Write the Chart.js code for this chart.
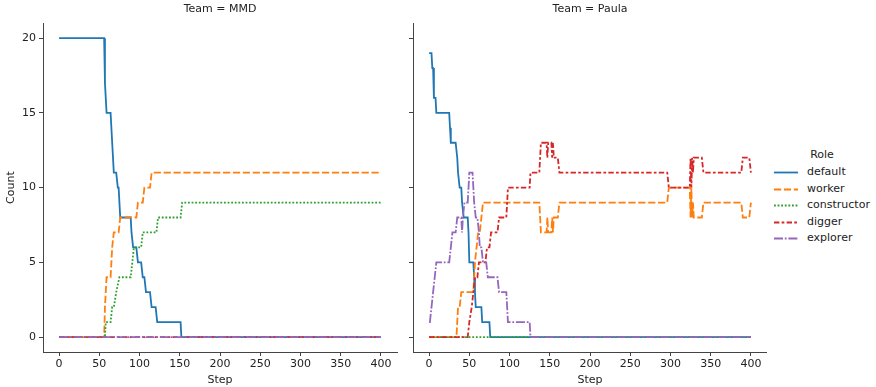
<!DOCTYPE html>
<html>
<head>
<meta charset="utf-8">
<script src="https://cdn.jsdelivr.net/npm/chart.js@4/dist/chart.umd.min.js"></script>
<style>
  html, body { margin: 0; padding: 0; background: #fff; }
  #fig { position: relative; width: 876px; height: 387px; font-family: "DejaVu Sans", sans-serif; color: #222; }
  #fig canvas { position: absolute; top: 0; }
  #c-mmd   { left: 0; }
  #c-paula { left: 400px; }
  #legend { position: absolute; left: 774px; top: 0; width: 100px; font-size: 11px; }
  .leg-title { position: absolute; left: 0; width: 96px; text-align: center; line-height: 16px; }
  .leg-row { position: absolute; left: 0; height: 16px; line-height: 16px; white-space: nowrap; }
  .leg-row svg { position: absolute; left: 0; top: 0; }
  .leg-row span { position: absolute; left: 33px; }
</style>
</head>
<body>
<div id="fig">
  <canvas id="c-mmd" width="400" height="387"></canvas>
  <canvas id="c-paula" width="367" height="387"></canvas>
  <div id="legend"></div>
</div>
<script>
const FONT = '"DejaVu Sans", sans-serif';

// axis ticks
const stepTicks  = [0, 50, 100, 150, 200, 250, 300, 350, 400];
const countTicks = [0, 5, 10, 15, 20];

// hue levels and their seaborn-style line styles
const roles      = ['default', 'worker', 'constructor', 'digger', 'explorer'];
const roleColors = ['#1f77b4', '#ff7f0e', '#2ca02c', '#d62728', '#9467bd'];
const LW = 1.8;
const roleDashes = [[], [4, 1.5], [1, 1], [3, 1.25, 1.5, 1.25], [5, 1, 1, 1]].map(d => d.map(v => v * LW));

// [step, count] — Team = MMD
const mmdDefault = [[0,20],[56,20],[57,17],[59,15],[64,15],[66,13],[68,11],[71,11],[73,10],[74,10],[76,8],[89,8],[90,7],[92,6],[96,6],[98,5],[102,5],[104,4],[106,4],[108,3],[113,3],[115,2],[120,2],[122,1],[151,1],[152,0],[400,0]];
const mmdWorker = [[0,0],[56,0],[57,2],[59,4],[64,4],[66,6],[68,7],[74,7],[76,8],[96,8],[98,9],[104,9],[106,10],[113,10],[115,11],[400,11]];
const mmdConstructor = [[0,0],[57,0],[58,1],[64,1],[66,2],[68,2],[71,3],[75,4],[89,4],[91,5],[93,6],[102,6],[104,7],[121,7],[123,8],[151,8],[153,9],[400,9]];
const mmdDigger = [[0,0],[400,0]];
const mmdExplorer = [[0,0],[400,0]];

// [step, count] — Team = Paula
const paulaDefault = [[0,19],[3,19],[4,18],[5,18],[6,16],[8,16],[9,15],[25,15],[26,14],[27,13],[33,13],[35,12],[36,11],[38,10],[40,10],[41,9],[43,8],[48,8],[49,7],[50,5],[55,5],[56,4],[57,3],[58,2],[65,2],[66,1],[75,1],[76,0],[400,0]];
const paulaWorker = [[0,0],[34,0],[36,2],[38,2],[40,3],[55,3],[57,5],[59,6],[61,7],[63,7],[65,8],[67,9],[137,9],[139,7],[146,7],[147,8],[148,7],[152,7],[153,8],[154,7],[155,8],[160,8],[162,9],[296,9],[298,10],[324,10],[325,8],[326,10],[327,8],[328,9],[329,8],[339,8],[341,9],[388,9],[390,8],[398,8],[400,9]];
const paulaConstructor = [[0,0],[400,0]];
const paulaDigger = [[0,0],[48,0],[50,1],[53,2],[55,3],[57,4],[60,4],[62,5],[70,5],[72,6],[75,6],[77,7],[85,7],[87,8],[96,8],[98,10],[125,10],[126,11],[137,11],[139,13],[146,13],[147,12],[148,13],[152,13],[153,12],[154,13],[155,12],[160,12],[162,11],[296,11],[298,10],[324,10],[325,12],[326,10],[327,12],[328,11],[329,12],[339,12],[341,11],[388,11],[390,12],[398,12],[400,11]];
const paulaExplorer = [[0,1],[1,1],[3,2],[5,3],[7,4],[9,5],[25,5],[27,6],[29,7],[33,7],[35,8],[40,8],[41,7],[42,8],[44,9],[48,9],[50,11],[54,11],[56,9],[58,8],[60,8],[62,7],[63,6],[65,6],[67,5],[71,5],[73,4],[85,4],[87,3],[96,3],[98,1],[125,1],[126,0],[400,0]];

const axisColor = '#444';
const tickFont  = { family: FONT, size: 11 };

function makeChart(id, title, series, showY) {
  return new Chart(document.getElementById(id), {
    type: 'line',
    data: {
      datasets: roles.map((r, i) => ({
        label: r,
        data: series[i].map(([x, y]) => ({ x, y })),
        borderColor: roleColors[i], backgroundColor: roleColors[i],
        borderDash: roleDashes[i], borderWidth: LW, borderCapStyle: 'butt',
        pointRadius: 0, fill: false, tension: 0,
        order: roles.length - i,   // later hues drawn on top
      })),
    },
    options: {
      responsive: false, animation: false, events: [],
      layout: { padding: { right: showY ? 3 : 0 } },
      plugins: {
        legend: { display: false }, tooltip: { enabled: false },
        title: { display: true, text: title, fullSize: false, color: '#222',
          font: { family: FONT, size: 11, weight: 'normal' }, padding: { top: 3, bottom: 7 } },
      },
      scales: {
        x: { type: 'linear', min: -20, max: 420,
          afterBuildTicks: s => { s.ticks = stepTicks.map(v => ({ value: v })); },
          afterFit: s => { s.height = 35; },
          grid: { drawOnChartArea: false, drawTicks: true, tickLength: 4, color: axisColor },
          border: { display: true, color: axisColor, width: 1 },
          ticks: { font: tickFont, color: '#222', padding: 2, maxRotation: 0, autoSkip: false },
          title: { display: true, text: 'Step', font: tickFont, color: '#222', padding: { top: 0, bottom: 0 } } },
        y: { type: 'linear', min: -1, max: 21,
          afterBuildTicks: s => { s.ticks = countTicks.map(v => ({ value: v })); },
          afterFit: s => { s.width = showY ? 43 : 13; },
          grid: { drawOnChartArea: false, drawTicks: true, tickLength: 4, color: axisColor },
          border: { display: true, color: axisColor, width: 1 },
          ticks: { display: showY, font: tickFont, color: '#222', padding: 3 },
          title: { display: showY, text: 'Count', font: tickFont, color: '#222', padding: { top: 5, bottom: 0 } } },
      },
    },
  });
}

makeChart('c-mmd', 'Team = MMD', [mmdDefault, mmdWorker, mmdConstructor, mmdDigger, mmdExplorer], true);
makeChart('c-paula', 'Team = Paula', [paulaDefault, paulaWorker, paulaConstructor, paulaDigger, paulaExplorer], false);

// legend on the right
const leg = document.getElementById('legend');
leg.innerHTML = `<div class="leg-title" style="top:147px">Role</div>` +
  roles.map((r, i) => `
    <div class="leg-row" style="top:${164 + i * 16.6}px">
      <svg width="24" height="16"><line x1="0" y1="8.5" x2="24" y2="8.5" stroke="${roleColors[i]}" stroke-width="${LW}"
        ${roleDashes[i].length ? `stroke-dasharray="${roleDashes[i].join(' ')}"` : ''}/></svg>
      <span>${r}</span>
    </div>`).join('');
</script>
</body>
</html>
